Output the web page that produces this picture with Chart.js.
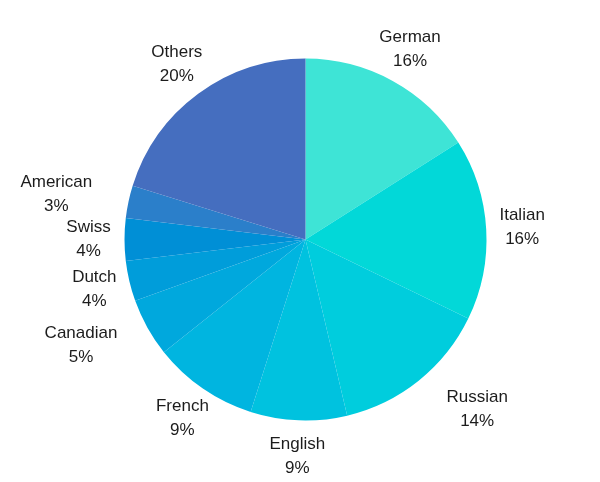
<!DOCTYPE html>
<html lang="en">
<head>
    <meta charset="UTF-8">
    <title>Nationalities</title>
    <script src="https://cdn.jsdelivr.net/npm/chart.js"></script>
    <style>
        html, body { margin: 0; padding: 0; background: #fff; }
        #wrap { width: 600px; height: 482px; }
    </style>
</head>
<body>
    <div id="wrap"><canvas id="pieChart" width="600" height="482"></canvas></div>

    <script>
        // data (share of the pie, in %)
        const categories = ['German', 'Italian', 'Russian', 'English', 'French', 'Canadian', 'Dutch', 'Swiss', 'American', 'Others'];
        const shares = [16.0, 16.2, 14.1, 8.6, 9.4, 5.2, 3.6, 3.8, 2.9, 20.2];
        const sliceColors = ['#3ee4d6', '#02d8d8', '#00cddd', '#00c2df', '#00b5e0', '#00a8dd', '#009dda', '#008fd6', '#2b7fca', '#456ebf'];

        // outside labels: name on one line, rounded percent under it
        const outsideLabels = {
            id: 'outsideLabels',
            afterDatasetsDraw(chart, args, opts) {
                const ctx = chart.ctx;
                const meta = chart.getDatasetMeta(0);
                const total = shares.reduce((a, b) => a + b, 0);
                ctx.save();
                ctx.font = opts.font;
                ctx.fillStyle = opts.color;
                ctx.textAlign = 'center';
                ctx.textBaseline = 'middle';
                meta.data.forEach((arc, i) => {
                    const p = arc.getProps(['x', 'y', 'startAngle', 'endAngle', 'outerRadius'], true);
                    const mid = (p.startAngle + p.endAngle) / 2;
                    const rr = p.outerRadius + opts.offset;
                    let x = p.x + Math.cos(mid) * rr;
                    const y = p.y + Math.sin(mid) * rr;
                    // some labels are pushed sideways, away from the pie
                    x += Math.sign(Math.cos(mid)) * (opts.push[i] || 0);
                    const pct = Math.round(shares[i] / total * 100) + '%';
                    ctx.fillText(categories[i], x, y - opts.lineGap / 2);
                    ctx.fillText(pct, x, y + opts.lineGap / 2);
                });
                ctx.restore();
            }
        };

        const ctx = document.getElementById('pieChart').getContext('2d');
        new Chart(ctx, {
            type: 'pie',
            data: {
                labels: categories,
                datasets: [{
                    data: shares,
                    backgroundColor: sliceColors,
                    borderWidth: 0
                }]
            },
            options: {
                responsive: false,
                animation: false,
                layout: {
                    padding: { top: 58.5, bottom: 61.5, left: 124.5, right: 113.5 }
                },
                plugins: {
                    legend: { display: false },
                    tooltip: { enabled: false },
                    outsideLabels: {
                        font: '17px "Liberation Sans", Arial, sans-serif',
                        color: '#1c1c1c',
                        offset: 36,
                        lineGap: 24,
                        push: [0, 0, 36, 0, 0, 35, 0, 0, 37, 0]
                    }
                }
            },
            plugins: [outsideLabels]
        });
    </script>
</body>
</html>
